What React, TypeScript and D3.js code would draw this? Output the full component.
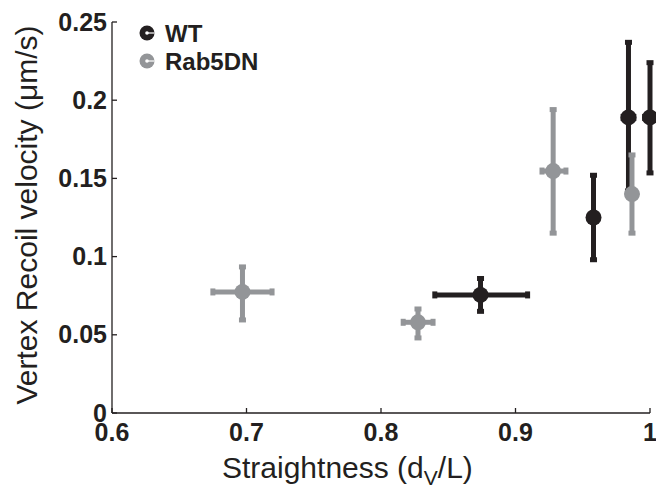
import React from 'react';
import * as d3 from 'd3';

const width = 656,
      height = 489;

// WT (black)
const wtX = [0.874, 0.958, 0.984, 1.0];
const wtY = [0.0755, 0.125, 0.189, 0.189];
const wtXLo = [0.84, 0.958, 0.98, 0.996];
const wtXHi = [0.909, 0.958, 0.988, 1.004];
const wtYLo = [0.065, 0.098, 0.142, 0.1535];
const wtYHi = [0.086, 0.152, 0.237, 0.224];

// Rab5DN (gray)
const rabX = [0.697, 0.8275, 0.928, 0.9866];
const rabY = [0.0774, 0.058, 0.1547, 0.14];
const rabXLo = [0.675, 0.8165, 0.9197, 0.9866];
const rabXHi = [0.719, 0.8387, 0.9375, 0.9866];
const rabYLo = [0.0595, 0.048, 0.115, 0.115];
const rabYHi = [0.0934, 0.0665, 0.194, 0.165];

const xTicks = [0.6, 0.7, 0.8, 0.9, 1];
const yTicks = [0, 0.05, 0.1, 0.15, 0.2, 0.25];
const xTickLabels = ['0.6', '0.7', '0.8', '0.9', '1'];
const yTickLabels = ['0', '0.05', '0.1', '0.15', '0.2', '0.25'];

const series = [
  { name: 'WT', color: '#231f20', x: wtX, y: wtY, xlo: wtXLo, xhi: wtXHi, ylo: wtYLo, yhi: wtYHi },
  { name: 'Rab5DN', color: '#939598', x: rabX, y: rabY, xlo: rabXLo, xhi: rabXHi, ylo: rabYLo, yhi: rabYHi },
];

const font = '"Liberation Sans", Arial, Helvetica, sans-serif';
const axisColor = '#231f20';

const App = () => {
  const x = d3.scaleLinear().domain([0.6, 1]).range([112, 650]);
  const y = d3.scaleLinear().domain([0, 0.25]).range([413, 22]);

  const lw = 5, cap = 7, r = 8;

  return (
    <svg width={width} height={height} style={{ position: 'absolute', left: 0, top: 0, background: '#fff' }}>
      {/* axes */}
      <g stroke={axisColor} strokeWidth={1.3} fill="none">
        <line x1={x(0.6)} x2={x(1)} y1={y(0)} y2={y(0)} />
        <line x1={x(0.6)} x2={x(0.6)} y1={y(0)} y2={y(0.25)} />
        {xTicks.map((t) => (
          <line key={'xt' + t} x1={x(t)} x2={x(t)} y1={y(0)} y2={y(0) - 5} />
        ))}
        {yTicks.map((t) => (
          <line key={'yt' + t} x1={x(0.6)} x2={x(0.6) + 5} y1={y(t)} y2={y(t)} />
        ))}
      </g>
      <g fontFamily={font} fontWeight="bold" fontSize={25} fill={axisColor}>
        {xTicks.map((t, i) => (
          <text key={'xl' + t} x={x(t)} y={441} textAnchor="middle">{xTickLabels[i]}</text>
        ))}
        {yTicks.map((t, i) => (
          <text key={'yl' + t} x={107} y={y(t)} dy="0.34em" textAnchor="end">{yTickLabels[i]}</text>
        ))}
      </g>
      <text x={222} y={478} fontFamily={font} fontSize={30} fill={axisColor}>
        Straightness (d<tspan fontSize={21} dy={7}>V</tspan><tspan dy={-7}>/L)</tspan>
      </text>
      <text transform="translate(37,215) rotate(-90)" textAnchor="middle" fontFamily={font} fontSize={30} fill={axisColor}>
        Vertex Recoil velocity (μm/s)
      </text>

      {/* error bars and markers */}
      {series.map((s) => (
        <g key={s.name} fill={s.color} stroke={s.color}>
          {s.x.map((xv, i) => {
            const cx = x(xv), cy = y(s.y[i]);
            const hasX = s.xhi[i] - s.xlo[i] > 0.0001;
            return (
              <g key={i}>
                <line x1={cx} x2={cx} y1={y(s.ylo[i])} y2={y(s.yhi[i])} strokeWidth={lw} />
                <rect x={cx - cap / 2} y={y(s.ylo[i]) - 2.5} width={cap} height={5} stroke="none" />
                <rect x={cx - cap / 2} y={y(s.yhi[i]) - 2.5} width={cap} height={5} stroke="none" />
                {hasX && (
                  <g>
                    <line x1={x(s.xlo[i])} x2={x(s.xhi[i])} y1={cy} y2={cy} strokeWidth={lw} />
                    <rect x={x(s.xlo[i]) - 2.5} y={cy - cap / 2} width={5} height={cap} stroke="none" />
                    <rect x={x(s.xhi[i]) - 2.5} y={cy - cap / 2} width={5} height={cap} stroke="none" />
                  </g>
                )}
                <circle cx={cx} cy={cy} r={r} stroke="none" />
              </g>
            );
          })}
        </g>
      ))}

      {/* legend */}
      {series.map((s, i) => {
        const ly = 33 + i * 28;
        return (
          <g key={'lg' + s.name}>
            <circle cx={147} cy={ly} r={7.5} fill={s.color} />
            <line x1={147} x2={154.5} y1={ly} y2={ly} stroke="#fff" strokeWidth={1.2} />
            <circle cx={147} cy={ly} r={1.8} fill="#fff" />
            <text x={165} y={ly} dy="0.36em" fontFamily={font} fontWeight="bold" fontSize={24} fill={axisColor}>{s.name}</text>
          </g>
        );
      })}
    </svg>
  );
};

export default App;
